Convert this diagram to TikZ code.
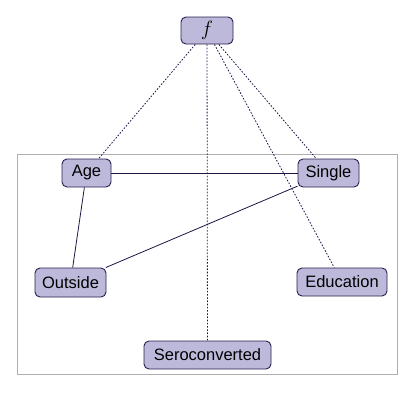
\documentclass[tikz,border=0pt]{standalone}
\usepackage{fontspec}
\setmainfont{Liberation Sans}
\definecolor{nodefill}{RGB}{189,185,219}
\definecolor{nodeedge}{RGB}{40,30,80}
\definecolor{edgecol}{RGB}{30,20,70}
\definecolor{framecol}{RGB}{175,175,175}
\begin{document}
\begin{tikzpicture}[x=1pt,y=-1pt,
  var/.style={draw=nodeedge,fill=nodefill,rounded corners=5pt,line width=0.9pt,inner sep=0pt,font=\fontsize{16.5}{19}\selectfont},
  solidedge/.style={draw=edgecol,line width=0.8pt},
  dotedge/.style={draw=edgecol,line width=0.8pt,dash pattern=on 1.6pt off 1.6pt}]
\useasboundingbox (0,0) rectangle (416,416);
\draw[framecol,line width=0.6pt] (17,154) rectangle (397,374);
\node[var,minimum width=52pt,minimum height=27pt,font=\fontsize{20}{22}\selectfont] (f) at (207,30.5) {$f$};
\node[var,minimum width=49pt,minimum height=28pt] (age) at (86.5,173) {Age};
\node[var,minimum width=61pt,minimum height=28pt] (single) at (328.5,173) {Single};
\node[var,minimum width=71pt,minimum height=29pt] (outside) at (70.5,282.5) {Outside};
\node[var,minimum width=90pt,minimum height=28pt] (edu) at (342,282) {Education};
\node[var,minimum width=127pt,minimum height=28pt] (sero) at (207.5,355) {Seroconverted};
\draw[solidedge] (age) -- (single);
\draw[solidedge] (age) -- (outside);
\draw[solidedge] (single) -- (outside);
\draw[dotedge] (f) -- (age);
\draw[dotedge] (f) -- (single);
\draw[dotedge] (f) -- (edu);
\draw[dotedge] (f) -- (sero);
\end{tikzpicture}
\end{document}
